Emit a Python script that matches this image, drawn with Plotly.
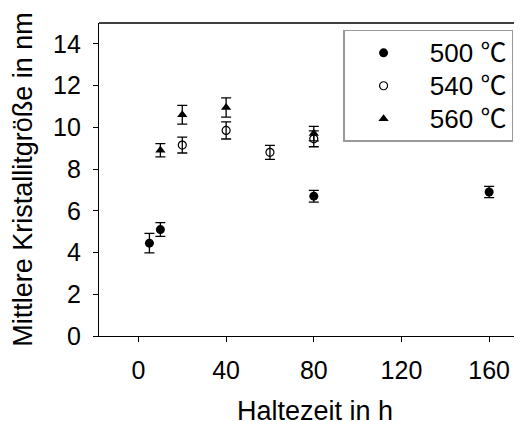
"""Mittlere Kristallitgröße über Haltezeit bei drei Glühtemperaturen."""

import plotly.graph_objects as go

# ─── Data ─────────────────────────────────────────────────────────────────────
time_500 = [5, 10, 80, 160]
size_500 = [4.45, 5.1, 6.7, 6.9]
err_500 = [0.47, 0.33, 0.28, 0.27]

time_540 = [20, 40, 60, 80]
size_540 = [9.15, 9.85, 8.8, 9.45]
err_540 = [0.38, 0.41, 0.34, 0.38]

time_560 = [10, 20, 40, 80]
size_560 = [8.9, 10.6, 10.95, 9.7]
err_560 = [0.32, 0.45, 0.46, 0.35]

temps = ["500 ℃", "540 ℃", "560 ℃"]

x_ticks = [0, 40, 80, 120, 160]
y_ticks = [0, 2, 4, 6, 8, 10, 12, 14]

FONT = "Liberation Sans, Arial, Noto Sans CJK JP, sans-serif"


def legend_name(label: str) -> str:
    # larger text inside a row that keeps the height of a smaller font
    return f'<span style="font-size:26px">\u00a0{label}</span>'


markers = [
    dict(symbol="circle", size=9, color="black"),
    dict(symbol="circle-open", size=8, color="black", line=dict(width=1.2)),
    dict(symbol="triangle-up", size=9, color="black"),
]

fig = go.Figure()

for label, t, s, e, marker in zip(
    temps,
    [time_500, time_540, time_560],
    [size_500, size_540, size_560],
    [err_500, err_540, err_560],
    markers,
):
    fig.add_trace(
        go.Scatter(
            x=t,
            y=s,
            mode="markers",
            name=legend_name(label),
            marker=marker,
            error_y=dict(type="data", array=e, color="black", thickness=1.3, width=5),
        )
    )

# top frame line (no right border in the original)
fig.add_shape(
    type="line", xref="paper", yref="paper",
    x0=0, x1=1, y0=1, y1=1,
    line=dict(color="black", width=1.3),
)

# x title as annotation: the axis title cannot sit this low inside the margin
fig.add_annotation(
    text="Haltezeit in h",
    xref="paper", yref="paper", x=0.5, y=0,
    xanchor="center", yanchor="middle",
    xshift=4, yshift=-75,
    showarrow=False,
    font=dict(size=27),
)

# the page body adds an 8 px margin, so the figure is 8 px smaller
fig.update_layout(
    width=514,
    height=413,
    margin=dict(l=91, r=0, t=15, b=85),
    paper_bgcolor="white",
    plot_bgcolor="white",
    font=dict(family=FONT, size=25, color="black"),
    legend=dict(
        x=0.577, y=0.978, xanchor="left", yanchor="top",
        bordercolor="#999999", borderwidth=1.5,
        bgcolor="white",
        font=dict(size=23),
        itemwidth=68,
        tracegroupgap=0,
    ),
    xaxis=dict(
        range=[-18, 175],
        tickvals=x_ticks,
        ticks="outside", ticklen=5, tickcolor="black",
        showline=True, linecolor="black", linewidth=1.3,
        showgrid=False, zeroline=False,
        ticklabelstandoff=7,
        automargin=False,
    ),
    yaxis=dict(
        range=[0, 15],
        tickvals=y_ticks,
        ticks="outside", ticklen=5, tickcolor="black",
        showline=True, linecolor="black", linewidth=1.3,
        showgrid=False, zeroline=False,
        ticklabelstandoff=7,
        automargin=False,
        title=dict(text="Mittlere Kristallitgröße in nm", standoff=13, font=dict(size=27)),
    ),
)

fig.write_html("out.html")
